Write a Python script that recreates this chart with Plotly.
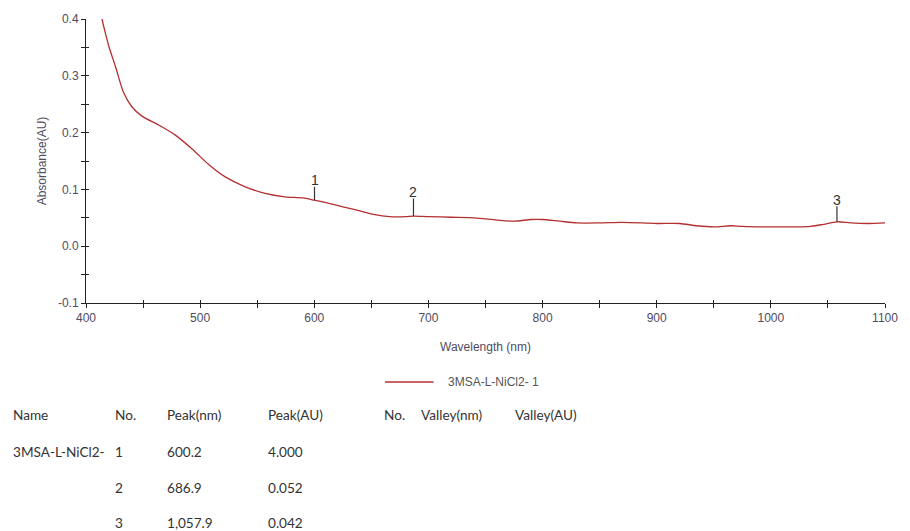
import numpy as np
import plotly.graph_objects as go

# ---- data ----
wavelength = [414, 417, 420, 426, 433, 440, 449, 464, 478, 493, 508, 522, 539, 557, 574, 590,
              600, 612, 626, 640, 652, 666, 680, 687, 700, 720, 740, 760, 775, 790, 800,
              815, 830, 850, 870, 900, 920, 935, 950, 965, 975, 1000, 1020, 1035, 1045,
              1058, 1070, 1085, 1100]
absorbance = [0.400, 0.375, 0.352, 0.315, 0.270, 0.246, 0.229, 0.213, 0.196, 0.171, 0.143,
              0.122, 0.105, 0.093, 0.087, 0.085, 0.081, 0.076, 0.069, 0.062, 0.056, 0.052,
              0.052, 0.053, 0.052, 0.051, 0.050, 0.046, 0.044, 0.047, 0.047, 0.044, 0.041,
              0.041, 0.042, 0.040, 0.040, 0.036, 0.034, 0.036, 0.035, 0.034, 0.034, 0.035,
              0.038, 0.043, 0.041, 0.040, 0.041]
series_name = "3MSA-L-NiCl2- 1"

peak_no = ["1", "2", "3"]
peak_nm = [600.2, 686.9, 1057.9]
peak_nm_text = ["600.2", "686.9", "1,057.9"]
peak_au_text = ["4.000", "0.052", "0.042"]
sample_names = ["3MSA-L-NiCl2-", "", ""]
table_headers = ["Name", "No.", "Peak(nm)", "Peak(AU)", "No.", "Valley(nm)", "Valley(AU)"]

x_ticks = [400, 500, 600, 700, 800, 900, 1000, 1100]
y_ticks = [-0.1, 0.0, 0.1, 0.2, 0.3, 0.4]
y_tick_labels = ["-0.1", "0.0", "0.1", "0.2", "0.3", "0.4"]

# ---- layout geometry (pixels) ----
W, H = 910, 531
L, R, T, B = 86, 893, 19, 303


def px(xp):
    return (xp - L) / (R - L)


def py(yp):
    return (B - yp) / (B - T)


line_color = "#b3302f"
tick_font = dict(family="Liberation Sans, Arial", size=12, color="#4f4b5e")

fig = go.Figure()
fig.add_trace(go.Scatter(x=wavelength, y=absorbance, mode="lines",
                         line=dict(color=line_color, width=1.3, shape="spline", smoothing=0.8),
                         name=series_name, showlegend=False, hoverinfo="x+y"))
# invisible trace to anchor overlay axes (inside half of crossing ticks)
fig.add_trace(go.Scatter(x=[wavelength[0]], y=[absorbance[0]], xaxis="x2", yaxis="y2",
                         mode="markers", marker=dict(opacity=0), showlegend=False,
                         hoverinfo="skip"))

axis_common = dict(showgrid=False, zeroline=False)
fig.update_layout(
    width=W, height=H,
    margin=dict(l=L, r=W - R, t=T, b=H - B, pad=0),
    paper_bgcolor="white", plot_bgcolor="white",
    showlegend=False,
    xaxis=dict(range=[400, 1100], tickvals=x_ticks, ticks="outside", ticklen=4,
               tickcolor="#222", showline=True, linecolor="#222", linewidth=1,
               tickfont=tick_font,
               minor=dict(dtick=50, tick0=400, ticks="outside", ticklen=4, tickcolor="#222"),
               title=dict(text="Wavelength (nm)", font=tick_font, standoff=18),
               **axis_common),
    yaxis=dict(range=[-0.1, 0.4], tickvals=y_ticks, ticktext=y_tick_labels,
               ticks="outside", ticklen=4, tickcolor="#222", showline=True,
               linecolor="#222", linewidth=1, tickfont=tick_font,
               minor=dict(dtick=0.05, tick0=-0.1, ticks="outside", ticklen=4, tickcolor="#222"),
               title=dict(text="Absorbance(AU)", font=tick_font, standoff=8),
               **axis_common),
    xaxis2=dict(range=[400, 1100], overlaying="x", anchor="y2", tickvals=x_ticks,
                ticks="inside", ticklen=3, tickcolor="#222", showticklabels=False,
                showline=False,
                minor=dict(dtick=50, tick0=400, ticks="inside", ticklen=3, tickcolor="#222"),
                **axis_common),
    yaxis2=dict(range=[-0.1, 0.4], overlaying="y", anchor="x2", tickvals=y_ticks,
                ticks="inside", ticklen=3, tickcolor="#222", showticklabels=False,
                showline=False,
                minor=dict(dtick=0.05, tick0=-0.1, ticks="inside", ticklen=3, tickcolor="#222"),
                **axis_common),
)

# peak markers with number labels
peak_y = np.interp(peak_nm, wavelength, absorbance)
label_offsets = [-20, -24, -22]
for no, xv, yv, off in zip(peak_no, peak_nm, peak_y, label_offsets):
    fig.add_annotation(x=xv, y=yv, xref="x", yref="y", text=no, showarrow=True,
                       arrowhead=0, arrowwidth=1.2, arrowcolor="#333", ax=0, ay=off,
                       standoff=0, startstandoff=0, height=12, borderpad=0,
                       font=dict(family="Liberation Sans, Arial", size=14, color="#333"))

# manual legend
fig.add_shape(type="line", xref="paper", yref="paper", x0=px(388), x1=px(437),
              y0=py(382), y1=py(382), line=dict(color=line_color, width=1.5))
fig.add_annotation(x=px(450), y=py(382), xref="paper", yref="paper", text=series_name,
                   showarrow=False, xanchor="left", yanchor="middle",
                   font=dict(family="Liberation Sans, Arial", size=12, color="#555"))

# peak table
table_font = dict(family="Lato, Noto Sans", size=13.6, color="#333")
col_x = [10, 113, 166, 268, 385, 422, 517]
row_y = [415, 452, 488, 523]
for hx, htxt in zip(col_x, table_headers):
    fig.add_annotation(x=px(hx), y=py(row_y[0]), xref="paper", yref="paper", text=htxt,
                       showarrow=False, xanchor="left", yanchor="middle", font=table_font)
for i in range(len(peak_no)):
    cells = [sample_names[i], peak_no[i], peak_nm_text[i], peak_au_text[i]]
    for cx, ctxt in zip(col_x[:4], cells):
        if ctxt:
            fig.add_annotation(x=px(cx), y=py(row_y[i + 1]), xref="paper", yref="paper",
                               text=ctxt, showarrow=False, xanchor="left",
                               yanchor="middle", font=table_font)

fig.write_html("out.html")
